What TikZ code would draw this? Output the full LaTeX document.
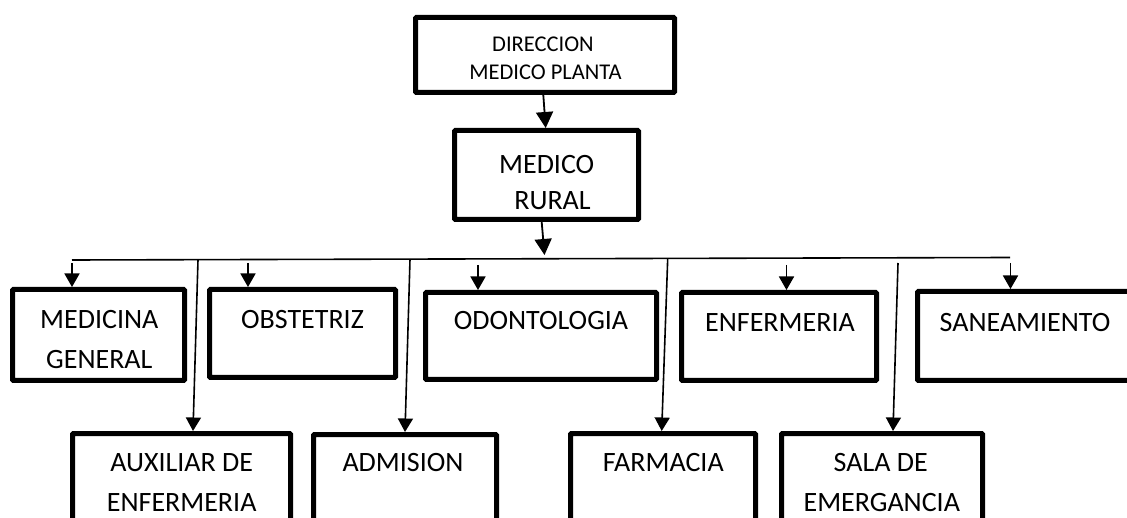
\documentclass[tikz,border=0pt]{standalone}
\usepackage{fontspec}
\setmainfont{Carlito}
\usetikzlibrary{arrows.meta}
\tikzset{
  box/.style={draw=black, line width=5pt, inner sep=0pt, rounded corners=1pt, fill=white},
  txt/.style={anchor=base, inner sep=0pt, font=\fontsize{28}{34}\selectfont},
  smalltxt/.style={anchor=base, inner sep=0pt, font=\fontsize{22.5}{27}\selectfont},
  arr/.style={line width=1.6pt, -{Triangle[width=15pt,length=13.5pt]}},
  arrbig/.style={line width=1.8pt, -{Triangle[width=17pt,length=16pt]}},
  busline/.style={line width=1.6pt}
}
\begin{document}
\begin{tikzpicture}[x=1pt,y=-1pt]
\useasboundingbox (0,0) rectangle (1127,518);
\clip (0,0) rectangle (1127,518);
\fill[white] (0,0) rectangle (1127,518);

% boxes
\node[box, minimum width=259pt, minimum height=75pt] (dir) at (545,55) {};
\node[box, minimum width=184pt, minimum height=89pt] (rur) at (546.5,175) {};
\node[box, minimum width=172pt, minimum height=91pt] (med) at (98.5,335) {};
\node[box, minimum width=186pt, minimum height=88pt] (obs) at (302.5,333.5) {};
\node[box, minimum width=231pt, minimum height=87pt] (odo) at (541,336) {};
\node[box, minimum width=195pt, minimum height=88pt] (enf) at (779,336.5) {};
\node[box, minimum width=215pt, minimum height=89pt] (san) at (1025,336) {};
\node[box, minimum width=218pt, minimum height=90pt] (aux) at (181.5,478.5) {};
\node[box, minimum width=183pt, minimum height=90pt] (adm) at (405,479.5) {};
\node[box, minimum width=185pt, minimum height=90pt] (far) at (663,478.5) {};
\node[box, minimum width=201pt, minimum height=90pt] (sal) at (882,478.5) {};

% texts
\node[smalltxt] (tdir1) at (543,51.7) {DIRECCION};
\node[smalltxt] (tdir2) at (545.5,80) {MEDICO PLANTA};
\node[txt] (trur1) at (546.7,173.3) {MEDICO};
\node[txt] (trur2) at (552.5,210) {RURAL};
\node[txt] (tmed1) at (99.3,329) {MEDICINA};
\node[txt] (tmed2) at (99.3,369) {GENERAL};
\node[txt] (tobs) at (302.5,328.5) {OBSTETRIZ};
\node[txt] (todo) at (541,330) {ODONTOLOGIA};
\node[txt] (tenf) at (780,331.5) {ENFERMERIA};
\node[txt] (tsan) at (1025,331.5) {SANEAMIENTO};
\node[txt] (taux1) at (181.7,471.5) {AUXILIAR DE};
\node[txt] (taux2) at (181.7,511.5) {ENFERMERIA};
\node[txt] (tadm) at (403,471.5) {ADMISION};
\node[txt] (tfar) at (663.3,471.5) {FARMACIA};
\node[txt] (tsal1) at (880.7,471.5) {SALA DE};
\node[txt] (tsal2) at (881.8,511) {EMERGANCIA};

% bus and coordinates
\coordinate (busL) at (72,260);
\coordinate (busR) at (1010,257.5);
\coordinate (rtip) at (544.5,255);
\coordinate (s1) at (72,263);
\coordinate (s2) at (248,263);
\coordinate (s3) at (478,265);
\coordinate (s4) at (786.5,265);
\coordinate (s5) at (1010.5,263);
\coordinate (l1) at (198,259.8);
\coordinate (l2) at (410,259.3);
\coordinate (l3) at (667.7,258.7);
\coordinate (l4) at (898,263);

\draw[busline] (busL) -- (busR);

% top connectors
\draw[arrbig] ([xshift=-1.7pt]dir.south) -- ([xshift=-0.8pt]rur.north);
\draw[arrbig] ([xshift=-4.8pt]rur.south) -- (rtip);

% short arrows
\draw[arr] (s1) -- ([xshift=-26.5pt]med.north);
\draw[arr] (s2) -- ([xshift=-54.5pt]obs.north);
\draw[arr] (s3) -- ([xshift=-63pt]odo.north);
\draw[arr] (s4) -- ([xshift=7.5pt]enf.north);
\draw[arr] (s5) -- ([xshift=-14.5pt]san.north);

% long arrows
\draw[arr] (l1) -- ([xshift=11.5pt]aux.north);
\draw[arr] (l2) -- (adm.north);
\draw[arr] (l3) -- ([xshift=-1.3pt]far.north);
\draw[arr] (l4) -- ([xshift=11pt]sal.north);
\end{tikzpicture}
\end{document}
